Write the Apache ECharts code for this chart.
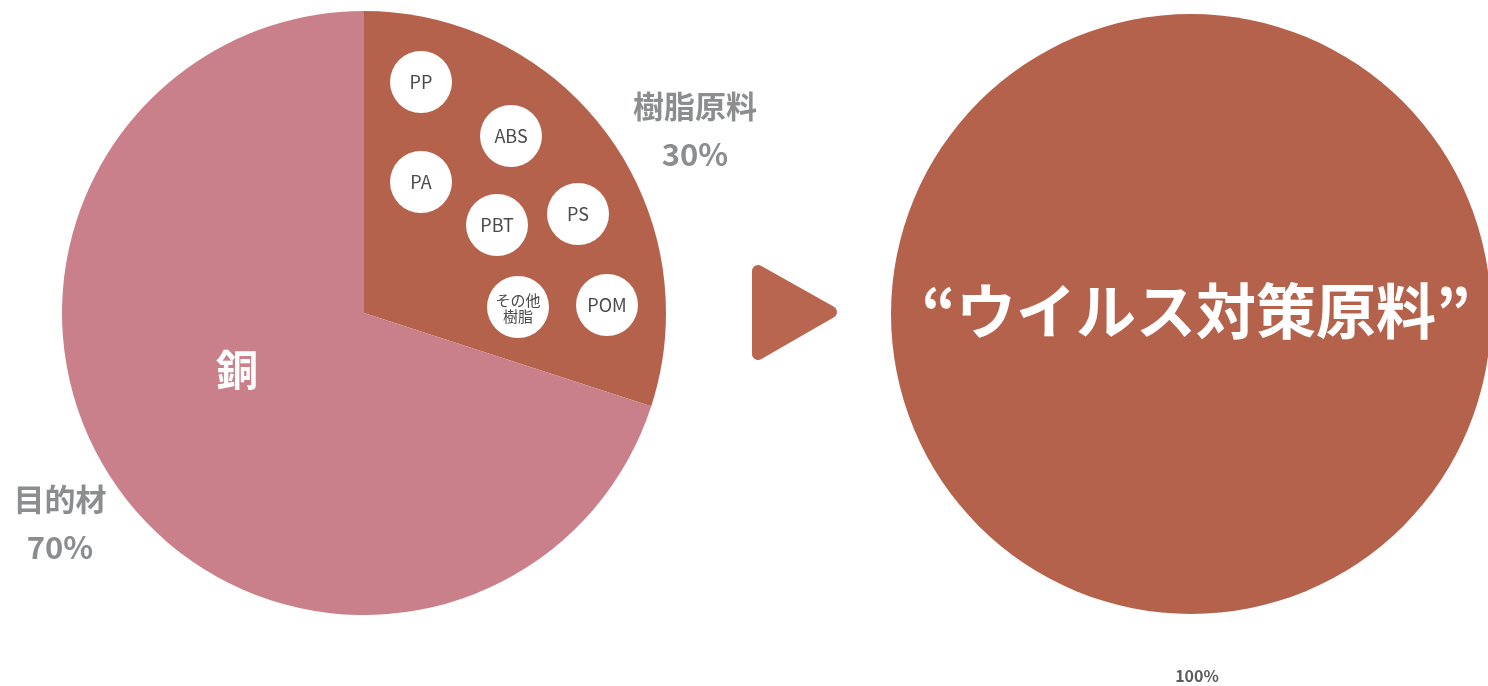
<!DOCTYPE html>
<html>
<head>
<meta charset="utf-8">
<script src="https://cdn.jsdelivr.net/npm/echarts@6/dist/echarts.min.js"></script>
<style>
  html, body { margin: 0; padding: 0; background: #ffffff; }
  #chart { width: 1488px; height: 686px; }
</style>
</head>
<body>
<div id="chart"></div>
<script>
// Composition of the recycled material (left) and the resulting product (right)
const compositionNames = ['樹脂原料', '目的材'];
const compositionValues = [30, 70];
const productNames = ['“ウイルス対策原料”'];
const productValues = [100];
const resinTypes = ['PP', 'ABS', 'PA', 'PBT', 'PS', 'その他\n樹脂', 'POM'];
const metalName = '銅';

const BROWN = '#b5624c';
const PINK = '#c9808a';
const GREY = '#8b8d8e';
const FONT = '"Noto Sans CJK JP", "Noto Sans", sans-serif';

// layout
const leftCenter = [364, 313];
const leftRadius = 302;
const rightCenter = [1191, 314];
const rightRadius = 300;
// badge offsets inside the resin slice, relative to the left pie centre
const badgeOffsets = [[57, -231], [147, -177], [57, -131], [133, -88], [214, -99], [154, -6], [243, -8]];
const badgeR = 31;

const chart = echarts.init(document.getElementById('chart'), null, { renderer: 'canvas' });

const graphics = [];

// resin badges
resinTypes.forEach((name, i) => {
  const cx = leftCenter[0] + badgeOffsets[i][0];
  const cy = leftCenter[1] + badgeOffsets[i][1];
  const twoLine = name.indexOf('\n') >= 0;
  graphics.push({
    type: 'circle', z: 10,
    shape: { cx: cx, cy: cy, r: badgeR },
    style: { fill: '#ffffff' }
  });
  graphics.push({
    type: 'text', z: 11,
    x: cx, y: cy + (twoLine ? 1 : 0),
    style: {
      text: name, fill: '#4a4a4a',
      font: (twoLine ? '15px' : '18px') + ' ' + FONT,
      lineHeight: twoLine ? 16 : 20,
      align: 'center', verticalAlign: 'middle'
    }
  });
});

// labels with shares
graphics.push({
  type: 'text', z: 10, x: 695, y: 130,
  style: {
    text: compositionNames[0] + '\n' + compositionValues[0] + '%',
    fill: GREY, font: 'bold 31px ' + FONT, lineHeight: 48,
    align: 'center', verticalAlign: 'middle'
  }
});
graphics.push({
  type: 'text', z: 10, x: 60, y: 523,
  style: {
    text: compositionNames[1] + '\n' + compositionValues[1] + '%',
    fill: GREY, font: 'bold 31px ' + FONT, lineHeight: 48,
    align: 'center', verticalAlign: 'middle'
  }
});
graphics.push({
  type: 'text', z: 10, x: 237, y: 370,
  style: {
    text: metalName, fill: '#ffffff', font: 'bold 42px ' + FONT,
    align: 'center', verticalAlign: 'middle'
  }
});
graphics.push({
  type: 'text', z: 10, x: 1196, y: 311,
  style: {
    text: productNames[0], fill: '#ffffff', font: 'bold 60px ' + FONT,
    align: 'center', verticalAlign: 'middle'
  }
});
graphics.push({
  type: 'text', z: 10, x: 1197, y: 676,
  style: {
    text: productValues[0] + '%', fill: '#5c5c5c', font: 'bold 16px ' + FONT,
    align: 'center', verticalAlign: 'middle'
  }
});

// arrow between the two pies
graphics.push({
  type: 'polygon', z: 5,
  shape: { points: [[758, 271], [831, 312], [758, 354]] },
  style: { fill: '#b8664f', stroke: '#b8664f', lineWidth: 12, lineJoin: 'round' }
});

chart.setOption({
  animation: false,
  backgroundColor: '#ffffff',
  series: [
    {
      type: 'pie',
      center: leftCenter,
      radius: [0, leftRadius],
      startAngle: 90,
      clockwise: true,
      silent: true,
      label: { show: false },
      labelLine: { show: false },
      itemStyle: { borderWidth: 0 },
      data: compositionNames.map((n, i) => ({
        name: n, value: compositionValues[i],
        itemStyle: { color: i === 0 ? BROWN : PINK }
      }))
    },
    {
      type: 'pie',
      center: rightCenter,
      radius: [0, rightRadius],
      startAngle: 90,
      silent: true,
      label: { show: false },
      labelLine: { show: false },
      itemStyle: { borderWidth: 0 },
      data: productNames.map((n, i) => ({
        name: n, value: productValues[i],
        itemStyle: { color: BROWN }
      }))
    }
  ],
  graphic: graphics
});
</script>
</body>
</html>
